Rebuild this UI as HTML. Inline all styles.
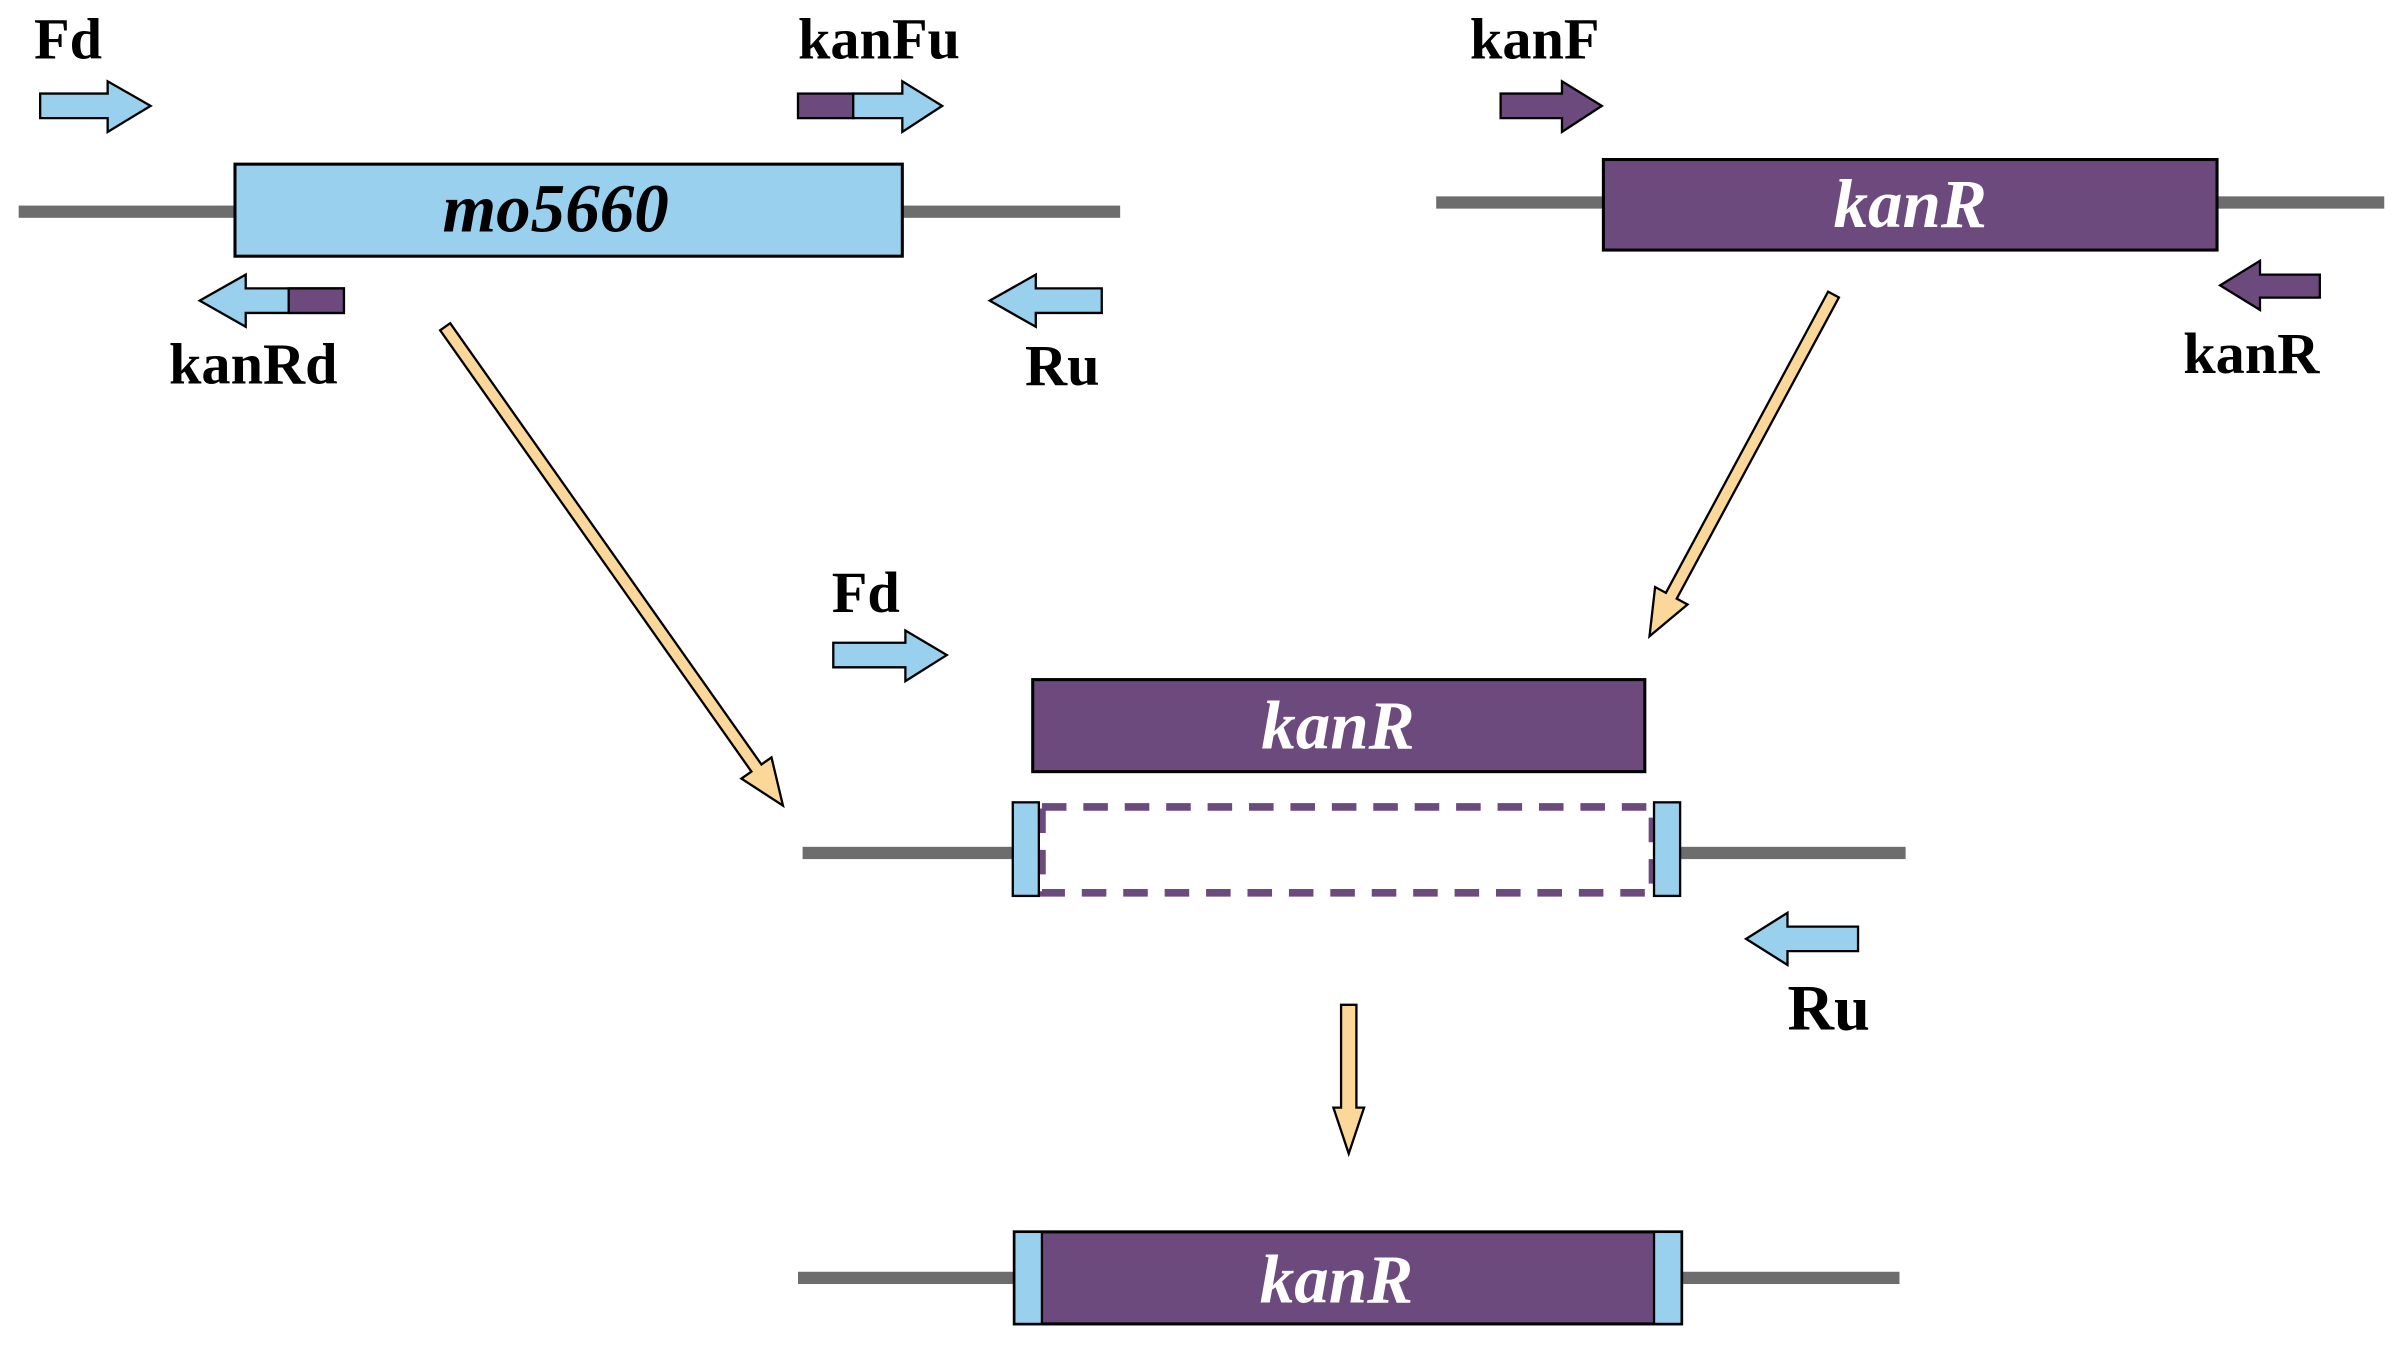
<!DOCTYPE html>
<html><head><meta charset="utf-8"><style>
html,body{margin:0;padding:0;background:#fff}
svg{display:block}
text{font-family:"Liberation Serif",serif;font-weight:bold}
</style></head><body>
<svg width="2406" height="1350" viewBox="0 0 1568 880" xmlns="http://www.w3.org/2000/svg">
<g stroke="#000" stroke-width="1.5">
<!-- top left -->
<rect x="12" y="134" width="718" height="8" fill="#6d6d6d" stroke="none"/>
<rect x="153" y="107" width="435" height="60" fill="#98d0ee" stroke-width="2"/>
<polygon points="26,61 70,61 70,53 98,69 70,86 70,77 26,77" fill="#98d0ee"/>
<rect x="520" y="61" width="36" height="16" fill="#6c4a7e"/>
<polygon points="556,61 588,61 588,53 614,69 588,86 588,77 556,77" fill="#98d0ee"/>
<polygon points="224,188 160,188 160,179 130,196 160,213 160,204 224,204" fill="#98d0ee"/>
<rect x="188" y="188" width="36" height="16" fill="#6c4a7e"/>
<polygon points="718,188 675,188 675,179 645,196 675,213 675,204 718,204" fill="#98d0ee"/>
<!-- top right -->
<rect x="936" y="128" width="618" height="8" fill="#6d6d6d" stroke="none"/>
<rect x="1045" y="104" width="400" height="59" fill="#6c4a7e" stroke-width="2"/>
<polygon points="978,61 1018,61 1018,53 1044,69 1018,86 1018,77 978,77" fill="#6c4a7e"/>
<polygon points="1512,179 1473,179 1473,170 1447,186 1473,202 1473,194 1512,194" fill="#6c4a7e"/>
<!-- diagonal arrows -->
<polygon transform="translate(290,213) rotate(54.8)" points="0,-4 352,-4 352,-12 382,0 352,12 352,4 0,4" fill="#fcd79a"/>
<polygon transform="translate(1195,192) rotate(118.3)" points="0,-4 223,-4 223,-12 253,0 223,12 223,4 0,4" fill="#fcd79a"/>
<!-- middle -->
<polygon points="543,419 590,419 590,411 617,427 590,444 590,435 543,435" fill="#98d0ee"/>
<rect x="673" y="443" width="399" height="60" fill="#6c4a7e" stroke-width="2"/>
<rect x="523" y="552" width="719" height="8" fill="#6d6d6d" stroke="none"/>
<rect x="660" y="523" width="435" height="61" fill="#fff" stroke="none"/>
<rect x="679" y="526" width="398" height="56" fill="none" stroke="#6c4a7e" stroke-width="5" stroke-dasharray="16,11"/>
<rect x="660" y="523" width="17" height="61" fill="#98d0ee"/>
<rect x="1078" y="523" width="17" height="61" fill="#98d0ee"/>
<polygon points="1211,604 1165,604 1165,595 1138,612 1165,629 1165,620 1211,620" fill="#98d0ee"/>
<polygon transform="translate(879,655) rotate(90)" points="0,-5 67,-5 67,-10 97,0 67,10 67,5 0,5" fill="#fcd79a"/>
<!-- bottom -->
<rect x="520" y="829" width="718" height="8" fill="#6d6d6d" stroke="none"/>
<rect x="661" y="803" width="435" height="60" fill="#6c4a7e" stroke-width="2"/>
<rect x="661" y="803" width="18" height="60" fill="#98d0ee"/>
<rect x="1078" y="803" width="18" height="60" fill="#98d0ee"/>
</g>
<g font-size="38" fill="#000">
<text x="22" y="38">Fd</text>
<text x="520" y="38">kanFu</text>
<text x="110" y="250">kanRd</text>
<text x="668" y="251">Ru</text>
<text x="958" y="38">kanF</text>
<text x="1423" y="243">kanR</text>
<text x="542" y="399">Fd</text>
<text x="1165" y="671" font-size="42">Ru</text>
</g>
<g font-size="45" font-style="italic" text-anchor="middle">
<text x="362" y="151" fill="#000">mo5660</text>
<text x="1245" y="148" fill="#fff">kanR</text>
<text x="872" y="488" fill="#fff">kanR</text>
<text x="871" y="849" fill="#fff">kanR</text>
</g>
</svg>
</body></html>
